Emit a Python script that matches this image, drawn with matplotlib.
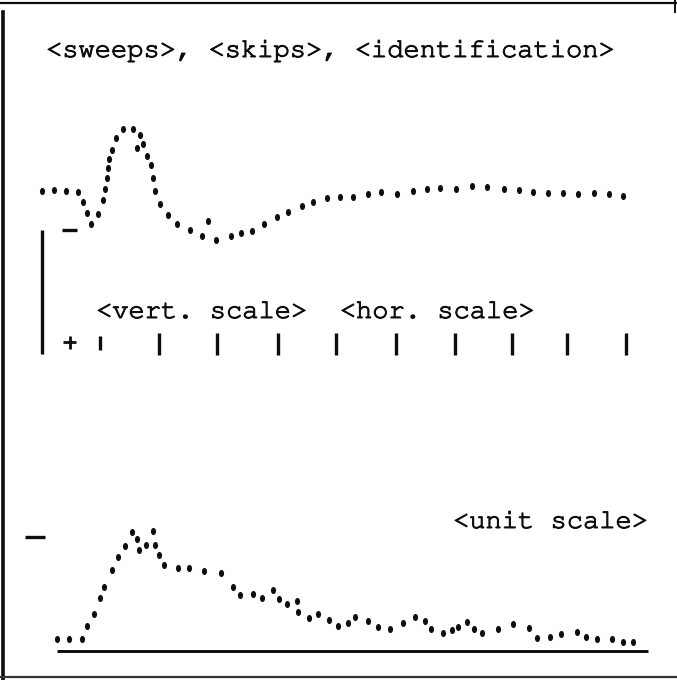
import matplotlib
matplotlib.use("Agg")
import matplotlib.pyplot as plt
from matplotlib import font_manager
from matplotlib.path import Path
from matplotlib.transforms import Affine2D
import matplotlib.patheffects as pe

# ---------------- data ----------------
# upper trace: time positions and amplitude relative to its baseline
top_t = [42, 54, 66, 78, 83, 87, 91, 98, 103, 105, 107, 108, 109, 112, 116, 123,
         133, 140, 143, 137, 147, 151, 153, 155, 160, 168, 177, 190, 202, 208,
         216, 231, 241, 252, 264, 277, 288, 302, 313, 327, 340, 353, 368, 381,
         397, 413, 427, 440, 456, 472, 487, 504, 519, 533, 548, 563, 578, 594,
         609, 623]
top_amp = [0, 1, 0, -1, -11, -22, -33, -23, -9, 2, 13, 23, 32, 41, 53, 62,
           62, 56, 47, 43, 35, 26, 13, 0, -13, -24, -33, -39, -45, -30,
           -49, -45, -42, -40, -33, -26, -21, -15, -11, -7, -6, -6, -3, -1,
           -3, 0, 2, 3, 2, 5, 4, 2, 1, -1, -2, -2, -3, -2,
           -3, -5]

# lower trace (unit response)
bot_t = [57, 69, 82, 87, 94, 100, 104, 112, 118, 125, 132, 137, 139, 146, 153,
         155, 159, 164, 178, 189, 204, 221, 233, 240, 253, 262, 273, 279, 287,
         297, 298, 309, 318, 329, 338, 348, 355, 368, 378, 390, 403, 415, 425,
         431, 443, 452, 458, 467, 474, 482, 498, 513, 529, 537, 550, 561, 577,
         586, 597, 612, 623, 633]
bot_amp = [12, 12, 12, 25, 37, 53, 64, 81, 94, 105, 119, 112, 101, 106, 120,
           106, 96, 86, 83, 83, 80, 78, 64, 56, 57, 53, 61, 52, 47,
           50, 39, 33, 37, 31, 25, 28, 34, 30, 24, 22, 28, 34, 30,
           22, 18, 21, 24, 29, 22, 18, 22, 27, 23, 13, 14, 17, 19,
           14, 12, 12, 9, 9]
bot_line_t = [57, 648]

# scale marks (annotation layer, page units)
hor_ticks = [100, 159, 217, 278, 336, 396, 455, 512, 567, 626]

title = "<sweeps>, <skips>, <identification>"
scale_label = "<vert. scale>  <hor. scale>"
unit_label = "<unit scale>"

# ---------------- font: prefer a typewriter face if present ----------------
available = {f.name for f in font_manager.fontManager.ttflist}
mono = "Liberation Mono"
for cand in ["Courier New", "Courier", "Nimbus Mono PS", "Nimbus Mono L",
             "FreeMono", "Liberation Mono", "DejaVu Sans Mono"]:
    if cand in available:
        mono = cand
        break

# ---------------- figure ----------------
W, H = 677, 680
fig = plt.figure(figsize=(W / 100, H / 100), dpi=100)
fig.patch.set_facecolor("white")

ax = fig.add_axes([0, 0, 1, 1])
ax.set_xlim(0, W)
ax.set_ylim(H, 0)
ax.axis("off")

ax_top = fig.add_axes([0, 0, 1, 1])
ax_top.set_xlim(0, W)
ax_top.set_ylim(191 - H, 191)
ax_top.axis("off")
ax_top.patch.set_alpha(0)

ax_bot = fig.add_axes([0, 0, 1, 1])
ax_bot.set_xlim(0, W)
ax_bot.set_ylim(651 - H, 651)
ax_bot.axis("off")
ax_bot.patch.set_alpha(0)

ink = "#0d0d0d"

# slightly tall elliptical dot, like a plotter/typewriter period
circ = Path.unit_circle()
dot = Path(Affine2D().scale(0.8, 1.1).transform(circ.vertices), circ.codes)

ax_top.scatter(top_t, top_amp, s=26, color=ink, marker=dot, linewidths=0)
ax_bot.scatter(bot_t, bot_amp, s=26, color=ink, marker=dot, linewidths=0)
ax_bot.plot(bot_line_t, [0, 0], color=ink, lw=2.1, solid_capstyle="butt")

# page frame
ax.plot([2.5, 2.5], [12, 679], color=ink, lw=2.6)
ax.plot([0, W], [3, 3], color=ink, lw=1.6)
ax.plot([0, W], [677, 677], color="#333333", lw=1.6)
ax.plot([675, 675], [0, 12], color=ink, lw=1.4)

# scale markers
ax.plot([42, 42], [230, 354], color=ink, lw=2.4, solid_capstyle="butt")
ax.plot([62, 77], [230, 230], color=ink, lw=2.4, solid_capstyle="butt")
ax.plot([25, 45], [537, 537], color=ink, lw=2.4, solid_capstyle="butt")
ax.plot([63, 76], [342, 342], color=ink, lw=2.0, solid_capstyle="butt")
ax.plot([69.5, 69.5], [336, 349], color=ink, lw=2.0, solid_capstyle="butt")
for i, x in enumerate(hor_ticks):
    y0, y1 = (336, 350) if i == 0 else (333, 355)
    ax.plot([x, x], [y0, y1], color=ink, lw=2.4, solid_capstyle="butt")

# labels
stroke = [pe.withStroke(linewidth=0.7, foreground=ink)]
for txt, x, y in [(title, 46, 51), (scale_label, 96, 312), (unit_label, 453, 522)]:
    ax.text(x, y, txt, fontsize=19.5, family=mono, ha="left", va="center",
            color=ink, path_effects=stroke)

fig.savefig("out.png", dpi=100, facecolor="white")
